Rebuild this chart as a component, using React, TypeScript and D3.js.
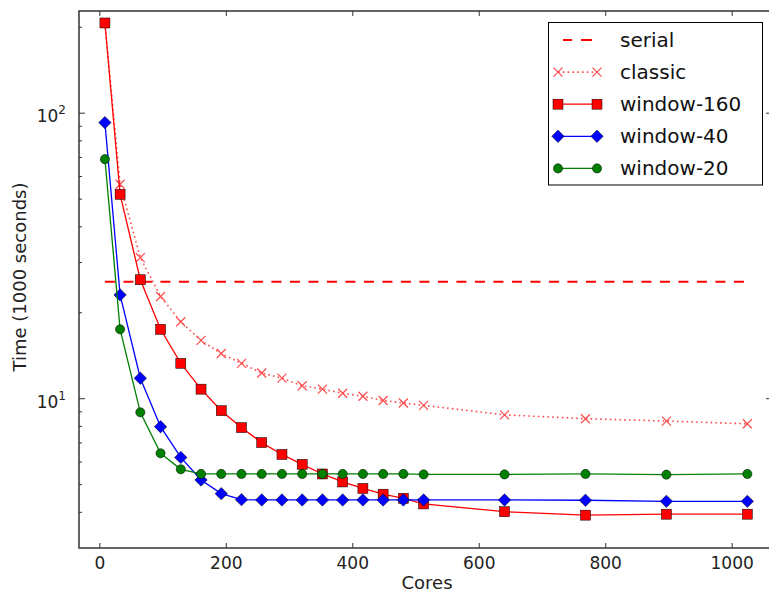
import { useRef, useEffect } from 'react';
import * as d3 from 'd3';

const cores = [8, 32, 64, 96, 128, 160, 192, 224, 256, 288, 320, 352, 384, 416, 448, 480, 512, 640, 768, 896, 1024];

const serial = [25.7, 25.7];
const serialCores = [8, 1024];

const classic = [207, 56.4, 31.2, 22.8, 18.6, 16.0, 14.4, 13.3, 12.3, 11.8, 11.1, 10.8, 10.45, 10.2, 9.86, 9.66, 9.48, 8.78, 8.51, 8.35, 8.17];
const window160 = [207, 52, 26.1, 17.5, 13.3, 10.8, 9.08, 7.92, 7.02, 6.38, 5.89, 5.45, 5.11, 4.85, 4.63, 4.48, 4.28, 4.02, 3.91, 3.94, 3.94];
const window40 = [92.7, 23.1, 11.8, 7.98, 6.23, 5.19, 4.65, 4.43, 4.42, 4.42, 4.42, 4.42, 4.42, 4.42, 4.42, 4.42, 4.42, 4.42, 4.41, 4.37, 4.37];
const window20 = [69, 17.5, 8.96, 6.44, 5.66, 5.45, 5.45, 5.45, 5.45, 5.45, 5.45, 5.45, 5.45, 5.45, 5.45, 5.45, 5.43, 5.43, 5.45, 5.42, 5.45];

const xTicks = [0, 200, 400, 600, 800, 1000];
const yMajor = [10, 100];
const yMinor = [4, 5, 6, 7, 8, 9, 20, 30, 40, 50, 60, 70, 80, 90, 200];

const W = 769;
const H = 593;
const dims = { left: 79, top: 11, right: 772, bottom: 548 };

const series = [
  { name: 'serial', x: serialCores, y: serial, color: 'red', dash: '10,8.5', width: 2, marker: 'none', opacity: 1 },
  { name: 'classic', x: cores, y: classic, color: 'red', dash: '1.6,3.2', width: 1.6, marker: 'x', opacity: 0.7 },
  { name: 'window-160', x: cores, y: window160, color: 'red', dash: null, width: 1.3, marker: 'square', opacity: 1 },
  { name: 'window-40', x: cores, y: window40, color: 'blue', dash: null, width: 1.3, marker: 'diamond', opacity: 1 },
  { name: 'window-20', x: cores, y: window20, color: 'green', dash: null, width: 1.3, marker: 'circle', opacity: 1 },
];

const font = 'DejaVu Sans, sans-serif';

const drawMarker = (g, kind, color, x, y) => {
  if (kind === 'square') {
    g.append('rect')
      .attr('x', x - 5)
      .attr('y', y - 5)
      .attr('width', 10)
      .attr('height', 10)
      .attr('fill', color)
      .attr('stroke', '#000')
      .attr('stroke-width', 0.5);
  } else if (kind === 'diamond') {
    g.append('path')
      .attr('d', `M${x},${y - 6.2}L${x + 6.2},${y}L${x},${y + 6.2}L${x - 6.2},${y}Z`)
      .attr('fill', color)
      .attr('stroke', '#000')
      .attr('stroke-width', 0.5);
  } else if (kind === 'circle') {
    g.append('circle')
      .attr('cx', x)
      .attr('cy', y)
      .attr('r', 4.6)
      .attr('fill', color)
      .attr('stroke', '#000')
      .attr('stroke-width', 0.5);
  } else if (kind === 'x') {
    const s = 4.5;
    g.append('path')
      .attr('d', `M${x - s},${y - s}L${x + s},${y + s}M${x - s},${y + s}L${x + s},${y - s}`)
      .attr('stroke', color)
      .attr('stroke-width', 1.2)
      .attr('fill', 'none');
  }
};

const Chart = () => {
  const ref = useRef(null);

  useEffect(() => {
    const svg = d3.select(ref.current);
    svg.selectAll('*').remove();

    const xScale = d3.scaleLinear().domain([-33, 1063]).range([dims.left, dims.right]);
    const yScale = d3.scaleLog().domain([3, 228]).range([dims.bottom, dims.top]);

    svg.append('defs')
      .append('clipPath')
      .attr('id', 'plot-clip')
      .append('rect')
      .attr('x', dims.left)
      .attr('y', dims.top)
      .attr('width', dims.right - dims.left)
      .attr('height', dims.bottom - dims.top);

    const plot = svg.append('g').attr('clip-path', 'url(#plot-clip)');

    // lines + markers
    series.forEach((s) => {
      const pts = s.x.map((c, i) => [xScale(c), yScale(s.y[i])]);
      const g = plot.append('g').attr('opacity', s.opacity);
      g.append('path')
        .attr('d', d3.line()(pts))
        .attr('fill', 'none')
        .attr('stroke', s.color)
        .attr('stroke-width', s.width)
        .attr('stroke-dasharray', s.dash);
      pts.forEach(([px, py]) => drawMarker(g, s.marker, s.color, px, py));
    });

    // frame
    const axisColor = '#333';
    svg.append('rect')
      .attr('x', dims.left)
      .attr('y', dims.top)
      .attr('width', dims.right - dims.left)
      .attr('height', dims.bottom - dims.top)
      .attr('fill', 'none')
      .attr('stroke', axisColor)
      .attr('stroke-width', 1.5);

    const ticks = svg.append('g').attr('stroke', axisColor).attr('stroke-width', 1);

    xTicks.forEach((t) => {
      const x = xScale(t);
      ticks.append('line').attr('x1', x).attr('x2', x).attr('y1', dims.bottom).attr('y2', dims.bottom - 5);
      ticks.append('line').attr('x1', x).attr('x2', x).attr('y1', dims.top).attr('y2', dims.top + 5);
      svg.append('text')
        .attr('x', x)
        .attr('y', 569)
        .attr('text-anchor', 'middle')
        .attr('font-family', font)
        .attr('font-size', 17)
        .attr('fill', '#222')
        .text(t);
    });

    yMinor.forEach((t) => {
      const y = yScale(t);
      ticks.append('line').attr('x1', dims.left).attr('x2', dims.left + 3).attr('y1', y).attr('y2', y);
      ticks.append('line').attr('x1', dims.right).attr('x2', dims.right - 3).attr('y1', y).attr('y2', y);
    });

    yMajor.forEach((t) => {
      const y = yScale(t);
      ticks.append('line').attr('x1', dims.left).attr('x2', dims.left + 6).attr('y1', y).attr('y2', y);
      ticks.append('line').attr('x1', dims.right).attr('x2', dims.right - 6).attr('y1', y).attr('y2', y);
      const label = svg.append('text')
        .attr('x', 66)
        .attr('y', y + 9)
        .attr('text-anchor', 'end')
        .attr('font-family', font)
        .attr('font-size', 17)
        .attr('fill', '#222');
      label.append('tspan').text('10');
      label.append('tspan')
        .attr('dy', -8)
        .attr('font-size', 12)
        .text(Math.round(Math.log10(t)));
    });

    // axis titles
    svg.append('text')
      .attr('x', 427)
      .attr('y', 589)
      .attr('text-anchor', 'middle')
      .attr('font-family', font)
      .attr('font-size', 18)
      .attr('fill', '#222')
      .text('Cores');

    svg.append('text')
      .attr('transform', 'translate(26, 277) rotate(-90)')
      .attr('text-anchor', 'middle')
      .attr('font-family', font)
      .attr('font-size', 18)
      .attr('fill', '#222')
      .text('Time (1000 seconds)');

    // legend
    const legend = svg.append('g');
    legend.append('rect')
      .attr('x', 548.5)
      .attr('y', 22.5)
      .attr('width', 214)
      .attr('height', 162.5)
      .attr('fill', 'white')
      .attr('stroke', '#000')
      .attr('stroke-width', 1);

    series.forEach((s, i) => {
      const y = 40 + i * 32.1;
      const g = legend.append('g').attr('opacity', s.opacity);
      if (s.name === 'serial') {
        g.append('line')
          .attr('x1', 563).attr('x2', 572).attr('y1', y).attr('y2', y)
          .attr('stroke', s.color).attr('stroke-width', s.width);
        g.append('line')
          .attr('x1', 581).attr('x2', 592).attr('y1', y).attr('y2', y)
          .attr('stroke', s.color).attr('stroke-width', s.width);
      } else {
        g.append('line')
          .attr('x1', 558)
          .attr('x2', 597)
          .attr('y1', y)
          .attr('y2', y)
          .attr('stroke', s.color)
          .attr('stroke-width', s.width)
          .attr('stroke-dasharray', s.dash);
        drawMarker(g, s.marker, s.color, 558, y);
        drawMarker(g, s.marker, s.color, 597, y);
      }
      legend.append('text')
        .attr('x', 620)
        .attr('y', y + 7)
        .attr('font-family', font)
        .attr('font-size', 20)
        .attr('fill', '#111')
        .text(s.name);
    });
  }, []);

  return <svg ref={ref} width={W} height={H} style={{ display: 'block' }}></svg>;
};

export default function App() {
  return (
    <div style={{ position: 'absolute', left: 0, top: 0, width: W, height: H, background: 'white', overflow: 'hidden' }}>
      <Chart />
    </div>
  );
}
